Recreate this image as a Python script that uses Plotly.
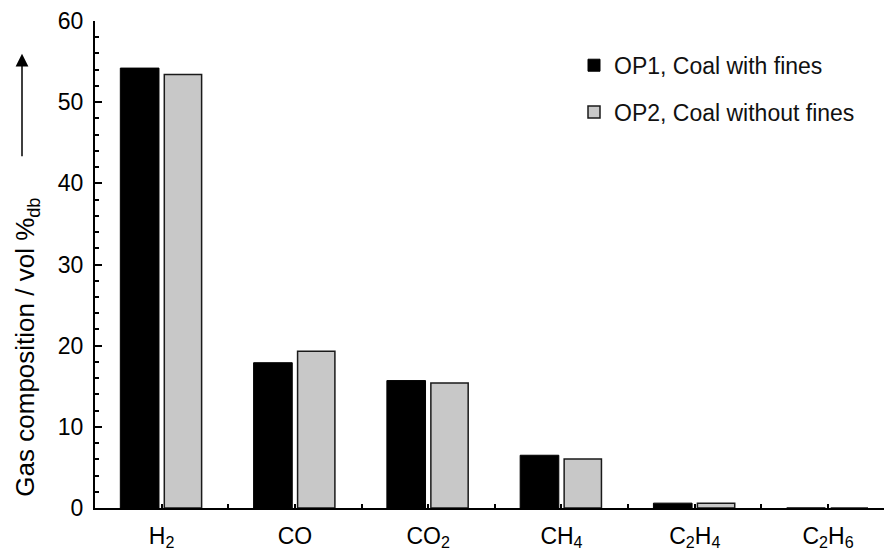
import plotly.graph_objects as go

categories = ["H<sub>2</sub>", "CO", "CO<sub>2</sub>", "CH<sub>4</sub>", "C<sub>2</sub>H<sub>4</sub>", "C<sub>2</sub>H<sub>6</sub>"]
op1_values = [54.2, 17.9, 15.7, 6.5, 0.6, 0.0]
op2_values = [53.4, 19.3, 15.4, 6.05, 0.6, 0.0]
series_names = ["OP1, Coal with fines", "OP2, Coal without fines"]
y_ticks = [0, 10, 20, 30, 40, 50, 60]
y_minor_ticks = [v for v in range(0, 61, 2) if v % 10]

x_pos = list(range(len(categories)))
FONT = "Liberation Sans, Arial, sans-serif"

# page body has an 8px margin: compensate so the plot lands where the reference has it
OFF = 8
W, H = 892 - OFF, 551 - OFF
ML, MT, MB = 95 - OFF, 18 - OFF, 551 - 510
PW, PH = W - ML, H - MT - MB


def px_x(sx):
    return (sx - OFF - ML) / PW


def px_y(sy):
    return 1 - (sy - OFF - MT) / PH


fig = go.Figure()
fig.add_trace(go.Bar(
    x=x_pos, y=op1_values, name=series_names[0],
    width=0.29, offset=-0.31,
    marker=dict(color="#000000", line=dict(color="#000000", width=1)),
    legendgroup="a",
))
fig.add_trace(go.Bar(
    x=x_pos, y=op2_values, name=series_names[1],
    width=0.28, offset=0.02,
    marker=dict(color="#c8c8c8", line=dict(color="#1a1a1a", width=1.5)),
    legendgroup="b",
))

fig.update_layout(
    width=W, height=H,
    margin=dict(l=ML, r=0, t=MT, b=MB, pad=0),
    paper_bgcolor="white", plot_bgcolor="white",
    font=dict(family=FONT, size=23, color="#000000"),
    showlegend=True,
    legend=dict(
        x=px_x(574), y=px_y(41), xanchor="left", yanchor="top",
        traceorder="grouped", tracegroupgap=14,
        font=dict(family=FONT, size=23, color="#111111"),
        bgcolor="rgba(0,0,0,0)",
    ),
    xaxis=dict(
        range=[-0.5, 5.48],
        tickmode="array", tickvals=x_pos, ticktext=categories,
        ticks="inside", ticklen=4, tickwidth=2, tickcolor="#000000",
        minor=dict(tickmode="array", tickvals=[i + 0.5 for i in x_pos],
                   ticks="inside", ticklen=4, tickwidth=2, tickcolor="#000000"),
        showline=True, linecolor="#000000", linewidth=2,
        showgrid=False, zeroline=False,
        tickfont=dict(family=FONT, size=23),
        ticklabelstandoff=6,
    ),
    yaxis=dict(
        range=[0, 60],
        tickmode="array", tickvals=y_ticks,
        ticks="inside", ticklen=7, tickwidth=2, tickcolor="#000000",
        minor=dict(tickmode="array", tickvals=y_minor_ticks, ticks="inside", ticklen=4,
                   tickwidth=2, tickcolor="#000000"),
        showline=True, linecolor="#000000", linewidth=2,
        showgrid=False, zeroline=False,
        tickfont=dict(family=FONT, size=23),
        ticklabelstandoff=5,
        ticklabeloverflow="allow",
    ),
)

fig.add_annotation(
    text="Gas composition / vol %<sub>db</sub>",
    xref="paper", yref="paper",
    x=px_x(27), y=px_y(348),
    xanchor="center", yanchor="middle",
    textangle=-90, showarrow=False,
    font=dict(family=FONT, size=26, color="#000000"),
)
fig.add_annotation(
    xref="paper", yref="paper",
    x=px_x(22), y=px_y(51),
    ax=0, ay=104,
    text="", showarrow=True, arrowhead=2, arrowsize=1.7, arrowwidth=1.5,
    arrowcolor="#000000",
)

fig.write_html("out.html")
